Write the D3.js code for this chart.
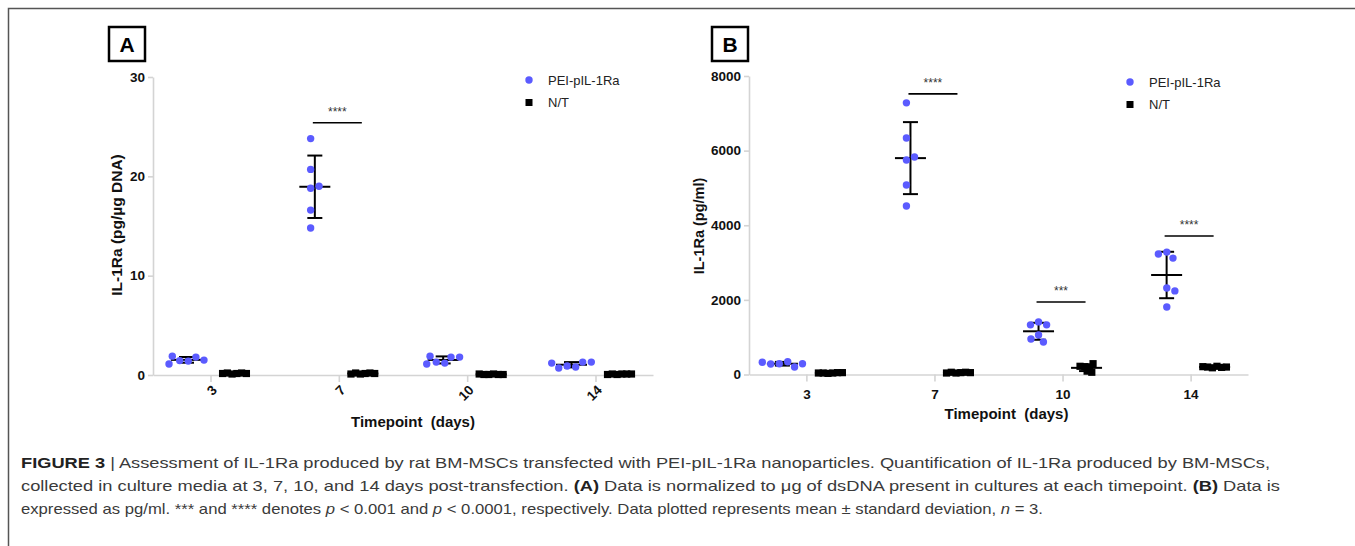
<!DOCTYPE html>
<meta charset="utf-8">
<script src="https://d3js.org/d3.v7.min.js"></script>
<style>
  body { margin: 0; background: #fff; }
  text { font-family: "Liberation Sans", Arial, sans-serif; }
</style>
<div id="fig"></div>
<script>

// timepoints (days)
var days = ["3", "7", "10", "14"];

// panel A: IL-1Ra (pg/ug DNA), one array of points per timepoint
var peiA = [[1.4, 1.8, 1.45, 1.5, 1.9, 1.1],
            [23.8, 20.7, 18.8, 19.0, 16.6, 14.8],
            [1.2, 1.8, 1.3, 1.8, 1.9, 1.1],
            [0.8, 1.3, 0.9, 1.3, 0.7, 1.2]];
var ntA  = [[0.15, 0.2, 0.1, 0.15, 0.2, 0.15],
            [0.15, 0.2, 0.1, 0.15, 0.2, 0.1],
            [0.05, 0.1, 0.05, 0.05, 0.1, 0.05],
            [0.1, 0.1, 0.05, 0.1, 0.1, 0.05]];
var ticksA = [0, 10, 20, 30];
var sigA = [{day: "7", y: 25.4, label: "****"}];

// panel B: IL-1Ra (pg/ml)
var peiB = [[290, 340, 280, 330, 200, 290],
            [7280, 6340, 5750, 5830, 5080, 4515],
            [1410, 1330, 1330, 1060, 870, 950],
            [3280, 3120, 3230, 2320, 2240, 1810]];
var ntB  = [[40, 50, 30, 40, 50, 40],
            [50, 60, 40, 50, 60, 40],
            [90, 200, 210, 220, 290, 60],
            [180, 220, 200, 190, 210, 200]];
var ticksB = [0, 2000, 4000, 6000, 8000];
var sigB = [{day: "7", y: 7520, label: "****"},
            {day: "10", y: 1945, label: "***"},
            {day: "14", y: 3713, label: "****"}];

var seriesNames = ["PEI-pIL-1Ra", "N/T"];

var W = 1355, H = 546;
var svg = d3.select("#fig").append("svg")
    .attr("width", W).attr("height", H);

// outer frame (top and left)
svg.append("path")
    .attr("d", "M8.5," + H + "V8.5H" + W)
    .attr("fill", "none").attr("stroke", "#555").attr("stroke-width", 1.5);

function mean(a) { return d3.mean(a); }
function sd(a) { return d3.deviation(a); }

// simple beeswarm: returns x offsets for pixel y values
function swarm(ys, dist) {
  var placed = [];
  ys.forEach(function(y) {
    var cands = [0];
    placed.forEach(function(p) {
      var dy = Math.abs(p.y - y);
      if (dy < dist) {
        var dx = Math.sqrt(dist * dist - dy * dy);
        cands.push(p.x + dx + 0.01, p.x - dx - 0.01);
      }
    });
    cands.sort(function(a, b) { return Math.abs(a) - Math.abs(b); });
    var x = cands.find(function(c) {
      return placed.every(function(p) {
        return (p.x - c) * (p.x - c) + (p.y - y) * (p.y - y) >= dist * dist - 0.1;
      });
    });
    placed.push({x: x, y: y});
  });
  var ext = d3.extent(placed, function(p) { return p.x; });
  var mid = (ext[0] + ext[1]) / 2;
  return placed.map(function(p) { return p.x - mid; });
}

function drawPanel(o) {
  var g = svg.append("g");

  var x = d3.scalePoint().domain(days).range([o.x0, o.x1]).padding(0.448);
  var y = d3.scaleLinear().domain(o.yDomain).range([o.y0, o.y1]);

  // panel letter box
  g.append("rect").attr("x", o.boxX).attr("y", 27).attr("width", 36).attr("height", 34)
      .attr("fill", "none").attr("stroke", "#000").attr("stroke-width", 2.5);
  g.append("text").attr("x", o.boxX + 18).attr("y", 52)
      .attr("text-anchor", "middle").style("font-size", "21px").style("font-weight", "bold")
      .text(o.letter);

  // y axis
  var ya = g.append("g").attr("transform", "translate(" + o.x0 + ",0)")
      .call(d3.axisLeft(y).tickValues(o.ticks).tickFormat(d3.format("d"))
        .tickSize(5).tickSizeOuter(0).tickPadding(3));
  // x axis
  var xa = g.append("g").attr("transform", "translate(0," + o.y0 + ")")
      .call(d3.axisBottom(x).tickSize(7).tickSizeOuter(0).tickPadding(8));
  [ya, xa].forEach(function(a) {
    a.select(".domain").attr("stroke", "#d4d4d4").attr("stroke-width", 1.6);
    a.selectAll(".tick line").attr("stroke", "#d4d4d4").attr("stroke-width", 1.6);
    a.selectAll("text").attr("fill", "#111").style("font-size", "13.5px")
        .style("font-weight", "bold").style("font-family", "Liberation Sans, Arial, sans-serif");
  });
  if (o.rotate) {
    xa.selectAll(".tick text")
        .attr("text-anchor", "end").attr("dy", "0.3em")
        .attr("transform", "translate(4,13) rotate(-45)").attr("y", 0).attr("x", 0);
  }

  // axis titles
  g.append("text").attr("x", (o.x0 + o.x1) / 2 + o.xTitleDx).attr("y", o.xTitleY)
      .attr("text-anchor", "middle").style("font-size", "15px").style("font-weight", "bold")
      .attr("fill", "#111").attr("xml:space", "preserve").text("Timepoint  (days)");
  g.append("text")
      .attr("transform", "translate(" + o.yTitleX + "," + o.yTitleY + ") rotate(-90)")
      .attr("text-anchor", "middle").attr("dy", "0.35em")
      .style("font-size", o.yTitleSize).style("font-weight", "bold").attr("fill", "#111")
      .text(o.yTitle);

  var groups = [
    {vals: o.pei, off: -24, shape: "circle", dist: 8.6},
    {vals: o.nt, off: 24, shape: "square", dist: 4.8}
  ];

  groups.forEach(function(s) {
    s.vals.forEach(function(vals, i) {
      var cx = x(days[i]) + s.off;
      var m = mean(vals), e = sd(vals);
      var eg = g.append("g").attr("stroke", "#000").attr("stroke-width", 2);
      eg.append("line").attr("x1", cx).attr("x2", cx).attr("y1", y(m - e)).attr("y2", y(m + e));
      eg.append("line").attr("x1", cx - 7.5).attr("x2", cx + 7.5).attr("y1", y(m + e)).attr("y2", y(m + e));
      eg.append("line").attr("x1", cx - 7.5).attr("x2", cx + 7.5).attr("y1", y(m - e)).attr("y2", y(m - e));
      eg.append("line").attr("x1", cx - 15.5).attr("x2", cx + 15.5).attr("y1", y(m)).attr("y2", y(m));

      var py = vals.map(function(v) { return y(v); });
      var dx = swarm(py, s.dist);
      if (s.shape === "circle") {
        g.selectAll(null).data(vals).enter().append("circle")
            .attr("cx", function(d, j) { return cx + dx[j]; })
            .attr("cy", function(d) { return y(d); })
            .attr("r", 3.7).attr("fill", "#5b5bff");
      } else {
        g.selectAll(null).data(vals).enter().append("rect")
            .attr("x", function(d, j) { return cx + dx[j] - 3.6; })
            .attr("y", function(d) { return y(d) - 3.6; })
            .attr("width", 7.2).attr("height", 7.2).attr("fill", "#000");
      }
    });
  });

  // significance bars
  o.sig.forEach(function(s) {
    var bx = x(s.day);
    g.append("line").attr("x1", bx - 26).attr("x2", bx + 23)
        .attr("y1", y(s.y)).attr("y2", y(s.y)).attr("stroke", "#000").attr("stroke-width", 1.6);
    g.append("text").attr("x", bx - 1.5).attr("y", y(s.y) - 7)
        .attr("text-anchor", "middle").style("font-size", "12px").attr("fill", "#333")
        .text(s.label);
  });

  // legend
  var lg = g.append("g").attr("transform", "translate(" + o.legX + "," + o.legY + ")");
  lg.append("circle").attr("cx", 0).attr("cy", 0).attr("r", 3.7).attr("fill", "#5b5bff");
  lg.append("rect").attr("x", -3.5).attr("y", 19).attr("width", 7).attr("height", 7).attr("fill", "#000");
  lg.selectAll(null).data(seriesNames).enter().append("text")
      .attr("x", 19).attr("y", function(d, i) { return i * 22.5; }).attr("dy", "0.35em")
      .style("font-size", "13px").attr("fill", "#222").text(function(d) { return d; });
}

drawPanel({letter: "A", boxX: 109, x0: 153, x1: 653, y0: 375, y1: 77,
  yDomain: [0, 30], ticks: ticksA, pei: peiA, nt: ntA, sig: sigA, rotate: true,
  xTitleY: 427, xTitleDx: 10, yTitleX: 117, yTitleY: 225, yTitleSize: "15.5px",
  yTitle: "IL-1Ra (pg/µg DNA)", legX: 529, legY: 80});

drawPanel({letter: "B", boxX: 712, x0: 749, x1: 1248, y0: 374.5, y1: 76,
  yDomain: [0, 8000], ticks: ticksB, pei: peiB, nt: ntB, sig: sigB, rotate: false,
  xTitleY: 419, xTitleDx: 8, yTitleX: 699, yTitleY: 226, yTitleSize: "14.5px",
  yTitle: "IL-1Ra (pg/ml)", legX: 1130, legY: 82});

// caption
var cap = svg.append("g").style("font-size", "15px").attr("fill", "#3a3a3a");
var l1 = cap.append("text").attr("x", 21).attr("y", 468)
    .attr("textLength", 1249).attr("lengthAdjust", "spacingAndGlyphs");
l1.append("tspan").style("font-weight", "bold").attr("fill", "#222").text("FIGURE 3");
l1.append("tspan").text(" | Assessment of IL-1Ra produced by rat BM-MSCs transfected with PEI-pIL-1Ra nanoparticles. Quantification of IL-1Ra produced by BM-MSCs,");

var l2 = cap.append("text").attr("x", 21).attr("y", 491)
    .attr("textLength", 1259).attr("lengthAdjust", "spacingAndGlyphs");
l2.append("tspan").text("collected in culture media at 3, 7, 10, and 14 days post-transfection. ");
l2.append("tspan").style("font-weight", "bold").attr("fill", "#222").text("(A)");
l2.append("tspan").text(" Data is normalized to μg of dsDNA present in cultures at each timepoint. ");
l2.append("tspan").style("font-weight", "bold").attr("fill", "#222").text("(B)");
l2.append("tspan").text(" Data is");

var l3 = cap.append("text").attr("x", 21).attr("y", 514)
    .attr("textLength", 1022).attr("lengthAdjust", "spacingAndGlyphs");
l3.append("tspan").text("expressed as pg/ml. *** and **** denotes ");
l3.append("tspan").style("font-style", "italic").text("p");
l3.append("tspan").text(" < 0.001 and ");
l3.append("tspan").style("font-style", "italic").text("p");
l3.append("tspan").text(" < 0.0001, respectively. Data plotted represents mean ± standard deviation, ");
l3.append("tspan").style("font-style", "italic").text("n");
l3.append("tspan").text(" = 3.");

</script>
